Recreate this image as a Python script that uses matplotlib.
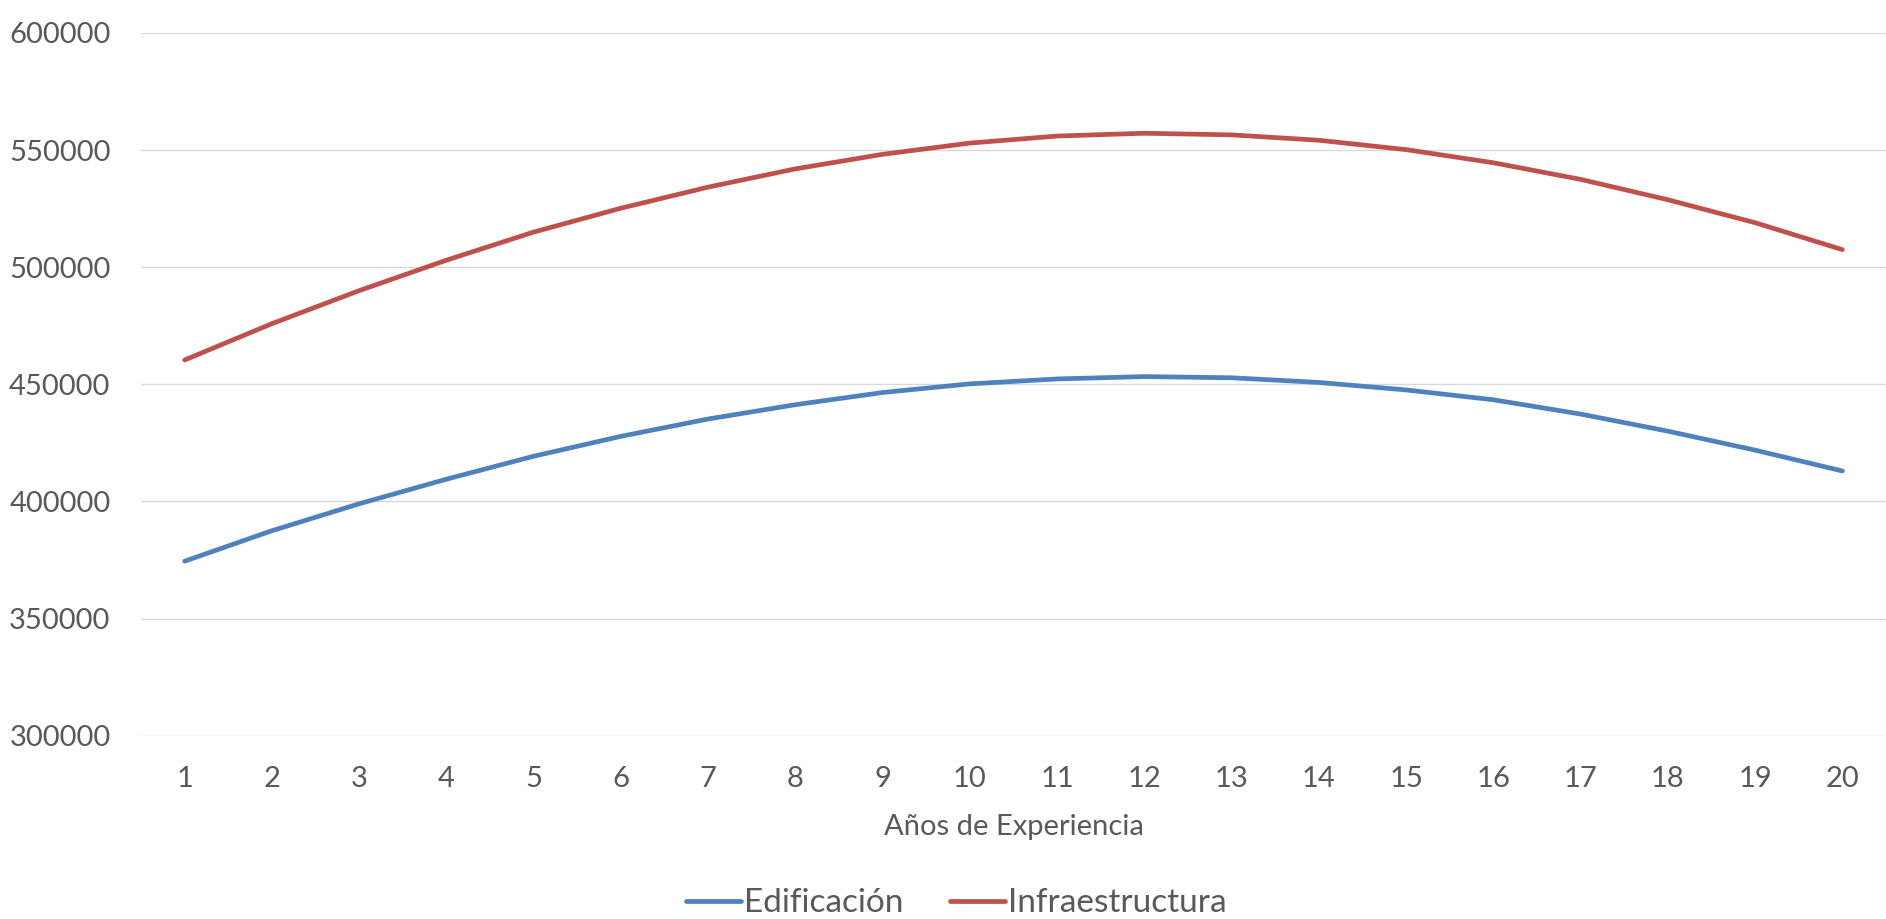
import matplotlib
matplotlib.use("Agg")
from matplotlib import pyplot as plt
import numpy as np

# values
years = list(range(1, 21))
edificacion = [374500, 387500, 399000, 409500, 419300, 427800, 435200, 441300, 446500, 450200,
               452300, 453300, 452800, 450800, 447600, 443400, 437300, 430000, 421900, 413000]
infraestructura = [460400, 475900, 490000, 503000, 515000, 525200, 534200, 542000, 548200, 553000,
                   556000, 557200, 556500, 554200, 550200, 544600, 537500, 528800, 519000, 507500]
y_ticks = [300000, 350000, 400000, 450000, 500000, 550000, 600000]

text_color = "#595959"
plt.rcParams["font.family"] = ["Lato", "DejaVu Sans"]

fig = plt.figure(figsize=(18.86, 9.19), dpi=100)
ax = fig.add_axes([0.0748, 0.1995, 0.9252, 0.7646])

x = np.arange(len(years))
ax.plot(x, edificacion, color="#4F81BD", linewidth=3.4, solid_capstyle="round", label="Edificación")
ax.plot(x, infraestructura, color="#C0504D", linewidth=3.4, solid_capstyle="round", label="Infraestructura")

ax.set_xlim(-0.5, len(years) - 0.5)
ax.set_ylim(300000, 600000)
ax.set_yticks(y_ticks)
ax.set_yticklabels([str(v) for v in y_ticks])
ax.set_xticks(x)
ax.set_xticklabels([str(y) for y in years])
ax.grid(axis="y", color="#D9D9D9", linewidth=1.0)
ax.set_axisbelow(True)
for s in ax.spines.values():
    s.set_visible(False)
ax.tick_params(axis="both", length=0, labelsize=21, labelcolor=text_color)
ax.tick_params(axis="y", pad=22)
ax.tick_params(axis="x", pad=22)
ax.set_xlabel("Años de Experiencia", fontsize=21, color=text_color, labelpad=16)

fig.legend(loc="center", bbox_to_anchor=(0.507, 0.017), ncol=2, frameon=False,
           fontsize=24, labelcolor=text_color, handlelength=1.65, handletextpad=0.1,
           columnspacing=1.4)

fig.savefig("out.png", dpi=100)
